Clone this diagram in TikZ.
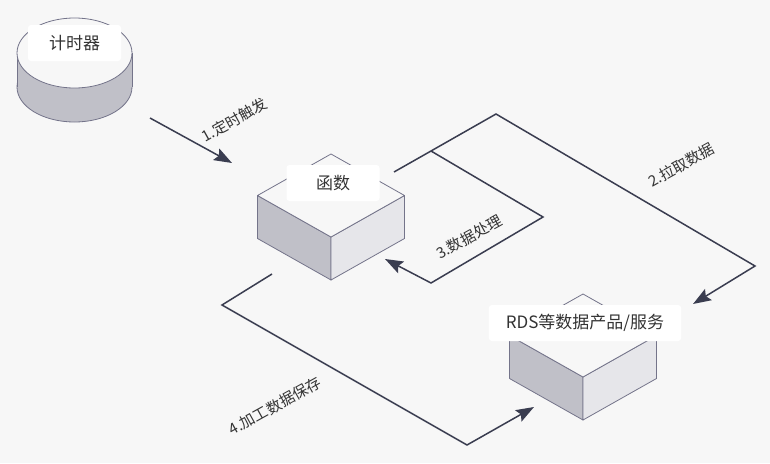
\documentclass[tikz,border=0pt]{standalone}
\usepackage{fontspec}
\newfontfamily\cjk{Noto Sans CJK SC}
\usetikzlibrary{arrows.meta}
\definecolor{bgcol}{HTML}{F7F7F7}
\definecolor{linecol}{HTML}{3A3D50}
\definecolor{edgecol}{HTML}{74748A}
\definecolor{leftcol}{HTML}{C0C0C8}
\definecolor{rightcol}{HTML}{E6E6EA}
\definecolor{textcol}{HTML}{333333}
\tikzset{
  flow/.style={linecol, line width=1.5pt, line join=miter},
  tip/.style={-{Stealth[length=18pt,width=13pt,inset=3pt]}},
  face/.style={draw=edgecol, line width=0.8pt, line join=round},
  tag/.style={fill=white, rounded corners=3pt, minimum width=93pt, minimum height=36pt,
    inner xsep=17pt, font=\cjk\fontsize{17}{20}\selectfont, text=textcol},
  steplabel/.style={rotate=29, inner sep=1pt, font=\cjk\fontsize{15}{18}\selectfont, text=textcol}
}
\begin{document}
\begin{tikzpicture}[x=1pt, y=-1pt]
  \fill[bgcol] (0,0) rectangle (770,463);
  \useasboundingbox (0,0) rectangle (770,463);

  % timer cylinder
  \filldraw[face, fill=leftcol] (74.5,87) ellipse [x radius=57.5, y radius=35];
  \fill[leftcol] (17,53) rectangle (132,87);
  \draw[face] (17,53) -- (17,87);
  \draw[face] (132,53) -- (132,87);
  \filldraw[face, fill=bgcol] (74.5,53) ellipse [x radius=57.5, y radius=35];

  % cubes
  \foreach \cx/\cy in {331/154, 583/294} {
    \filldraw[face, fill=leftcol] (\cx-73.5,\cy+41.5) -- (\cx,\cy+83) -- (\cx,\cy+126) -- (\cx-73.5,\cy+84.5) -- cycle;
    \filldraw[face, fill=rightcol] (\cx+73.5,\cy+41.5) -- (\cx,\cy+83) -- (\cx,\cy+126) -- (\cx+73.5,\cy+84.5) -- cycle;
    \filldraw[face, fill=bgcol] (\cx,\cy) -- (\cx+73.5,\cy+41.5) -- (\cx,\cy+83) -- (\cx-73.5,\cy+41.5) -- cycle;
  }

  \node[tag] (timer) at (74.5,43) {计时器};
  \node[tag] (func) at (333,183) {函数};
  \node[tag] (rds) at (585,323) {RDS等数据产品/服务};

  % connectors
  \coordinate (a1s) at (150,118);
  \coordinate (a1e) at (232,163);
  \draw[flow, tip] (a1s) -- (a1e);

  \coordinate (a2s) at (394,172);
  \coordinate (a2j) at (431,151);
  \coordinate (a2t) at (496,114);
  \coordinate (a2r) at (755,266);
  \coordinate (a2e) at (693,304);
  \draw[flow, tip] (a2s) -- (a2j) -- (a2t) -- (a2r) -- (a2e);

  \coordinate (a3r) at (543,217);
  \coordinate (a3b) at (431,283);
  \coordinate (a3e) at (385,259);
  \draw[flow, tip] (a2j) -- (a3r) -- (a3b) -- (a3e);

  \coordinate (a4s) at (272,274);
  \coordinate (a4l) at (222,305);
  \coordinate (a4b) at (467,445);
  \coordinate (a4e) at (534,407);
  \draw[flow, tip] (a4s) -- (a4l) -- (a4b) -- (a4e);

  \node[steplabel] (l1) at (234,120) {1.定时触发};
  \node[steplabel] (l2) at (681,165) {2.拉取数据};
  \node[steplabel] (l3) at (469,237) {3.数据处理};
  \node[steplabel] (l4) at (275,406) {4.加工数据保存};
\end{tikzpicture}
\end{document}
